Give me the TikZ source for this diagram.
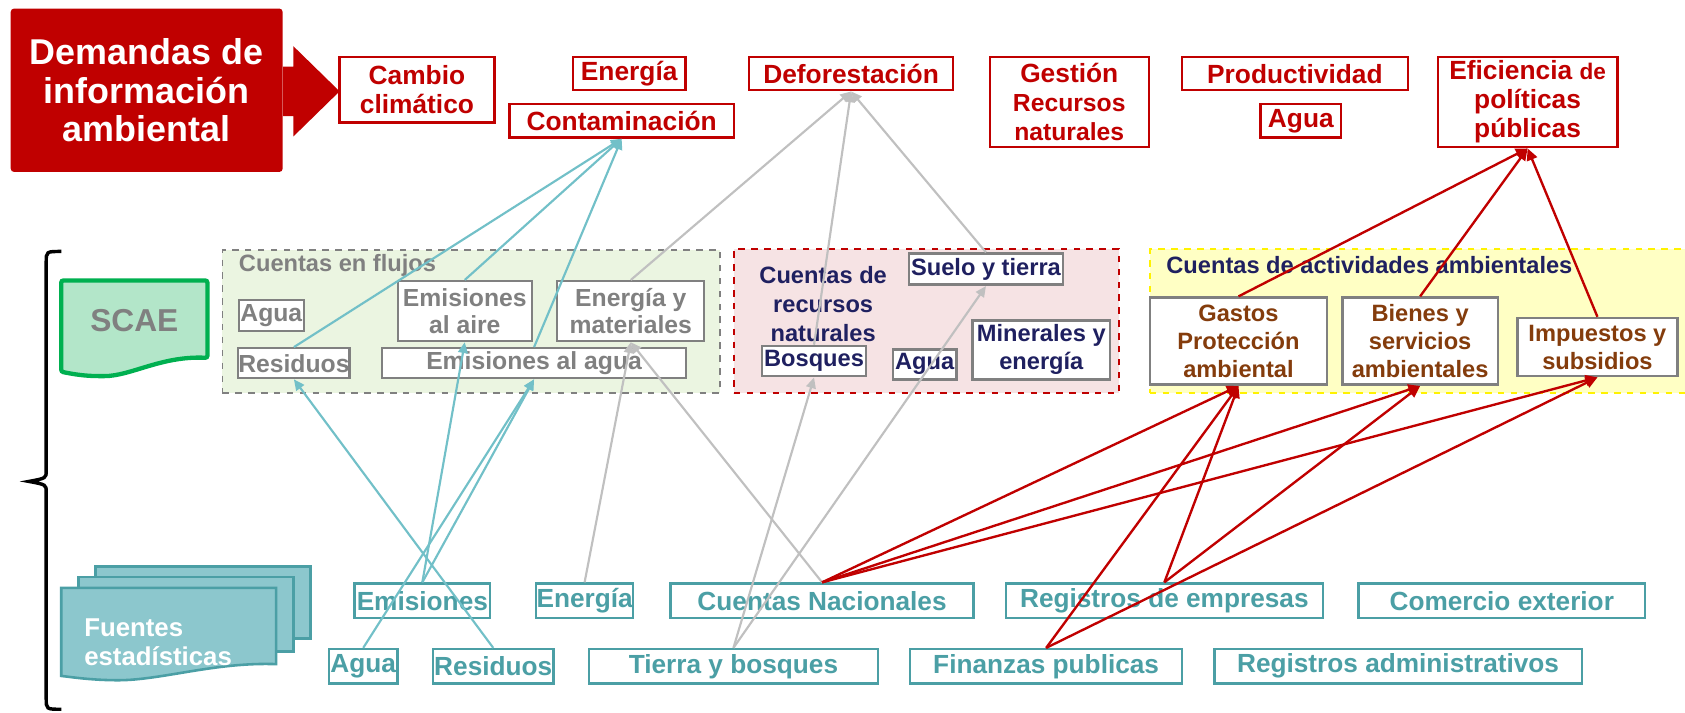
\documentclass[tikz,border=0pt]{standalone}
\usepackage{fontspec}
\setmainfont{Liberation Sans}
\usetikzlibrary{arrows.meta}
\definecolor{cred}{HTML}{C00000}
\definecolor{cteal}{HTML}{4B9FA5}
\definecolor{ctealline}{HTML}{72C0C8}
\definecolor{cgrayline}{HTML}{C0C0C0}
\definecolor{cgray}{HTML}{808080}
\definecolor{cnavy}{HTML}{1F2060}
\definecolor{cbrown}{HTML}{843C0C}
\definecolor{cflujos}{HTML}{EBF5E1}
\definecolor{crecursos}{HTML}{F6E3E4}
\definecolor{cactiv}{HTML}{FFFFC4}
\definecolor{cscae}{HTML}{B3E6C9}
\definecolor{cscaeb}{HTML}{00B050}
\definecolor{cfuente}{HTML}{8CC7CD}
\tikzset{
  redbox/.style={draw=cred, line width=1.1pt, fill=white, text=cred, inner sep=0pt, align=center,
    font=\bfseries\fontsize{12.25}{13.5}\selectfont},
  graybox/.style={draw=cgray, line width=1pt, fill=white, text=cgray, inner sep=0pt, align=center,
    font=\bfseries\fontsize{11.5}{12.5}\selectfont},
  navybox/.style={draw=cgray, line width=1.2pt, fill=white, text=cnavy, inner sep=0pt, align=center,
    font=\bfseries\fontsize{11}{13}\selectfont},
  brownbox/.style={draw=cgray, line width=1.2pt, fill=white, text=cbrown, inner sep=0pt, align=center,
    font=\bfseries\fontsize{11}{13}\selectfont},
  tealbox/.style={draw=cteal, line width=1.1pt, fill=white, text=cteal, inner sep=0pt, align=center,
    font=\bfseries\fontsize{12.2}{13.5}\selectfont, minimum height=16pt},
  container/.style={dashed, line width=0.8pt, inner sep=0pt},
  tl/.style={draw=ctealline, line width=1pt, -{Triangle[length=5pt,width=4.5pt]}},
  gl/.style={draw=cgrayline, line width=1pt, -{Triangle[length=5pt,width=4.5pt]}},
  rl/.style={draw=cred, line width=1.1pt, -{Triangle[length=5.5pt,width=5pt]}},
}
\begin{document}
\begin{tikzpicture}[x=0.5pt,y=-0.5pt]
\useasboundingbox (0,0) rectangle (1568,663);

% --- top: demands
\node[fill=cred, rounded corners=1.5pt, minimum width=126.5pt, minimum height=76pt, inner sep=0pt,
  text=white, align=center, font=\bfseries\fontsize{16.7}{18}\selectfont] (dem) at (136.5,84)
  {Demandas de\\información\\ambiental};
\fill[cred] (dem.east |- 0,62) -- (273,62) -- (273,43) -- (316,85) -- (273,127) -- (273,108) -- (dem.east |- 0,108) -- cycle;

\node[redbox, minimum width=72pt, minimum height=30.5pt] (cambio) at (388,83.5) {Cambio\\climático};
\node[redbox, minimum width=52.5pt, minimum height=15.5pt] (energia) at (585.5,68.5) {Energía};
\node[redbox, minimum width=104.5pt, minimum height=15.5pt] (contam) at (578.5,112.5) {Contaminación};
\node[redbox, minimum width=95pt, minimum height=15.5pt] (defor) at (792,68.5) {Deforestación};
\node[redbox, minimum width=74pt, minimum height=42pt] (gestion) at (995,95)
  {Gestión\\{\fontsize{11.5}{13.5}\selectfont Recursos}\\{\fontsize{11.5}{13.5}\selectfont naturales}};
\node[redbox, minimum width=105pt, minimum height=15.5pt] (product) at (1205,68.5) {Productividad};
\node[redbox, minimum width=37.5pt, minimum height=15.5pt] (aguaT) at (1210.5,112.5) {Agua};
\node[redbox, minimum width=83.5pt, minimum height=42pt] (efic) at (1421.5,95)
  {Eficiencia {\fontsize{10.5}{13.5}\selectfont de}\\políticas\\públicas};

% --- bracket
\draw[black, line width=1.6pt] (57,234) .. controls (43,234) .. (43,244) -- (43,438)
  .. controls (43,445) .. (27,448) .. controls (43,451) .. (43,458) -- (43,650)
  .. controls (43,660) .. (57,660);

% --- SCAE
\draw[fill=cscae, draw=cscaeb, line width=2pt, rounded corners=1pt] (57,261) -- (193,261) -- (193,333)
  .. controls (150,331) and (122,350) .. (95,350) .. controls (75,350) and (63,347) .. (57,346) -- cycle;
\node[text=cgray, font=\bfseries\fontsize{14.75}{16}\selectfont] (scae) at (125,298) {SCAE};

% --- containers
\node[container, draw=cgray, fill=cflujos, minimum width=231.5pt, minimum height=66.5pt] (flujos) at (438.5,299) {};
\node[anchor=west, text=cgray, font=\bfseries\fontsize{11}{12}\selectfont, inner sep=0pt] (flujosT) at (222,247) {Cuentas en flujos};
\node[container, draw=cred, fill=crecursos, minimum width=179pt, minimum height=67pt] (recursos) at (862,299) {};
\node[align=center, text=cnavy, font=\bfseries\fontsize{11}{13.5}\selectfont, inner sep=0pt] (recursosT) at (766,283)
  {Cuentas de\\recursos\\naturales};
\node[container, draw=yellow, fill=cactiv, minimum width=255pt, minimum height=67pt] (activ) at (1325,299) {};
\node[anchor=west, text=cnavy, font=\bfseries\fontsize{11}{12}\selectfont, inner sep=0pt] (activT) at (1085,247) {Cuentas de actividades ambientales};

% --- flujos boxes
\node[graybox, minimum width=30pt, minimum height=14.5pt] (aguaF) at (252.5,293.5) {Agua};
\node[graybox, minimum width=62.5pt, minimum height=28pt] (emAire) at (432.5,289.5) {Emisiones\\al aire};
\node[graybox, minimum width=68.5pt, minimum height=28pt] (enMat) at (587,289.5) {Energía y\\materiales};
\node[graybox, minimum width=51pt, minimum height=14pt] (resF) at (273.5,338) {Residuos};
\node[graybox, minimum width=141.5pt, minimum height=14pt] (emAgua) at (497,338) {Emisiones al agua};

% --- recursos boxes
\node[navybox, minimum width=71.5pt, minimum height=14.5pt] (suelo) at (917.5,250.5) {Suelo y tierra};
\node[navybox, minimum width=48.5pt, minimum height=14pt] (bosques) at (757.5,336) {Bosques};
\node[navybox, minimum width=29.5pt, minimum height=14pt] (aguaR) at (860.5,339) {Agua};
\node[navybox, minimum width=64pt, minimum height=27.5pt] (miner) at (969,325.5) {Minerales y\\energía};

% --- actividades boxes
\node[brownbox, minimum width=82.5pt, minimum height=40.5pt] (gastos) at (1152.5,317.5) {Gastos\\Protección\\ambiental};
\node[brownbox, minimum width=72.5pt, minimum height=40.5pt] (bienes) at (1321.5,317.5) {Bienes y\\servicios\\ambientales};
\node[brownbox, minimum width=74.5pt, minimum height=27pt] (impuestos) at (1486.5,323) {Impuestos y\\subsidios};

% --- Fuentes estadisticas
\draw[fill=cfuente, draw=cteal, line width=1.2pt] (89,527) rectangle (289,594);
\draw[fill=cfuente, draw=cteal, line width=1.2pt] (73,537) rectangle (273,606);
\draw[fill=cfuente, draw=cteal, line width=1.2pt] (57,547) -- (257,547) -- (257,618)
  .. controls (200,616) and (150,633) .. (110,633) .. controls (85,633) and (66,630) .. (57,629) -- cycle;
\node[anchor=west, text=white, align=left, inner sep=0pt, font=\bfseries\fontsize{12}{13.5}\selectfont] (fuentes) at (78,598)
  {Fuentes\\estadísticas};

% --- bottom sources
\node[tealbox, minimum width=63pt] (emisB) at (393,559) {Emisiones};
\node[tealbox, minimum width=45pt] (energiaB) at (544,559) {Energía};
\node[tealbox, minimum width=141pt] (cn) at (765,559) {Cuentas Nacionales};
\node[tealbox, minimum width=147.5pt] (rde) at (1083.5,559) {Registros de empresas};
\node[tealbox, minimum width=133.5pt] (comercio) at (1397.5,559) {Comercio exterior};
\node[tealbox, minimum width=32pt] (aguaB) at (338,620) {Agua};
\node[tealbox, minimum width=56pt] (resB) at (459,620) {Residuos};
\node[tealbox, minimum width=134.5pt] (tierra) at (682.5,620) {Tierra y bosques};
\node[tealbox, minimum width=126.5pt] (fin) at (973.5,620) {Finanzas publicas};
\node[tealbox, minimum width=171pt] (radm) at (1301,620) {Registros administrativos};

% --- teal connectors
\draw[tl] (resF.north) -- (contam.south);
\draw[tl] (emAire.north) -- (contam.south);
\draw[tl] (emAgua.north) -- (contam.south);
\draw[tl] (emisB.north) -- (emAire.south);
\draw[tl] (emisB.north) -- (emAgua.south);
\draw[tl] (aguaB.north) -- (emAgua.south);
\draw[tl] (resB.north) -- (resF.south);

% --- gray connectors
\draw[gl] (enMat.north) -- (defor.south);
\draw[gl] (bosques.north) -- (defor.south);
\draw[gl] (suelo.north) -- (defor.south);
\draw[gl] (energiaB.north) -- (enMat.south);
\draw[gl] (cn.north) -- (enMat.south);
\draw[gl] (tierra.north) -- (bosques.south);
\draw[gl] (tierra.north) -- (suelo.south);

% --- red connectors
\draw[rl] (gastos.north) -- (efic.south);
\draw[rl] (bienes.north) -- (efic.south);
\draw[rl] (impuestos.north) -- (efic.south);
\draw[rl] (cn.north) -- (gastos.south);
\draw[rl] (cn.north) -- (bienes.south);
\draw[rl] (cn.north) -- (impuestos.south);
\draw[rl] (rde.north) -- (gastos.south);
\draw[rl] (rde.north) -- (bienes.south);
\draw[rl] (fin.north) -- (gastos.south);
\draw[rl] (fin.north) -- (impuestos.south);
\end{tikzpicture}
\end{document}
